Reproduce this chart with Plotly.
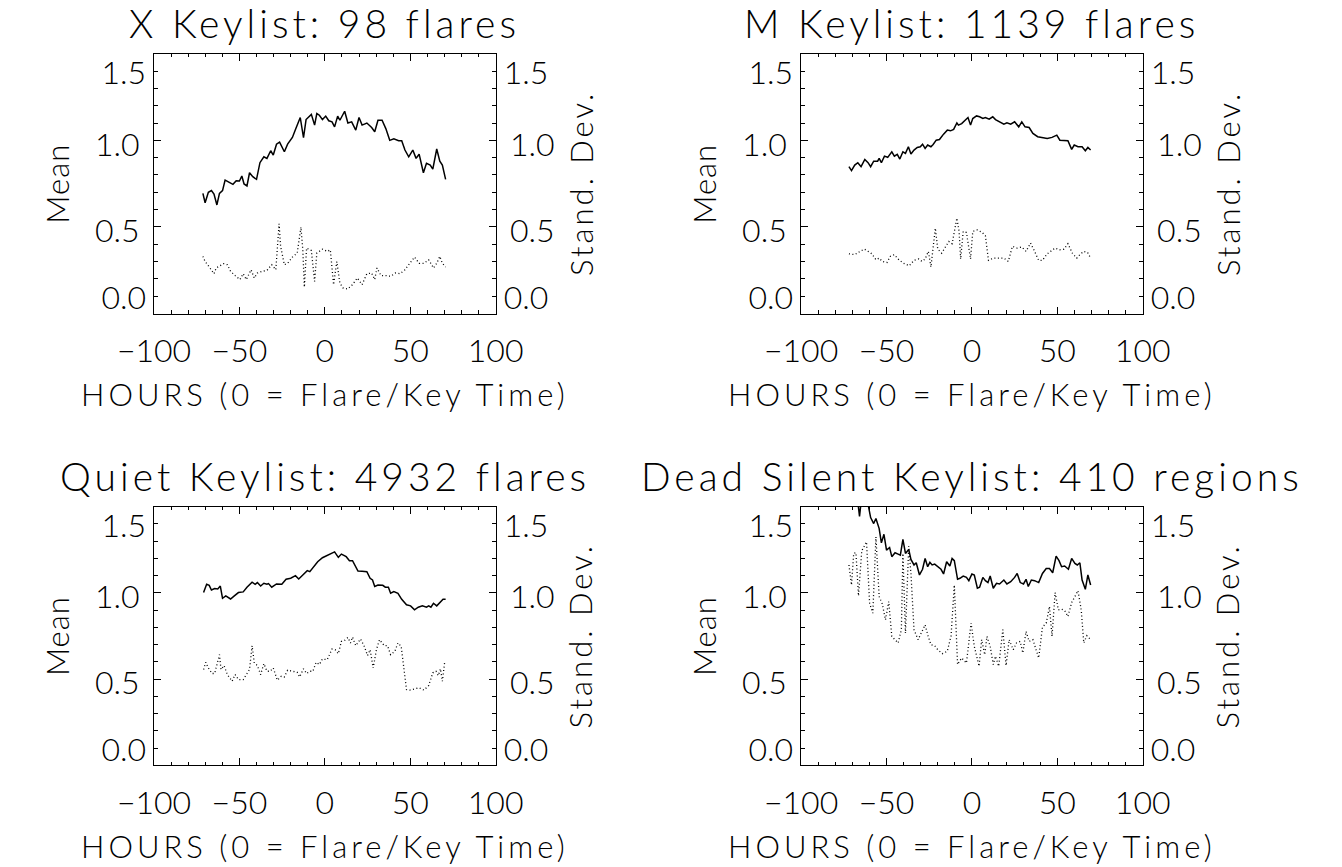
import plotly.graph_objects as go

# ---------------- data ----------------
TITLES = ["X Keylist: 98 flares", "M Keylist: 1139 flares",
          "Quiet Keylist: 4932 flares", "Dead Silent Keylist: 410 regions"]
X_TICKS = [-100, -50, 0, 50, 100]
Y_TICKS = [0.0, 0.5, 1.0, 1.5]
X_LABEL = "HOURS (0 = Flare/Key Time)"
Y_LABEL_LEFT = "Mean"
Y_LABEL_RIGHT = "Stand. Dev."

# X keylist
X_MEAN_HOURS = [-71.4, -70.1, -68.2, -66.4, -64.9, -63.2, -61.7, -59.9, -58.4, -56.2,
                -53.8, -51.9, -50.0, -48.6, -47.3, -45.6, -44.1, -42.2, -40.0, -38.0,
                -35.7, -33.9, -31.7, -30.2, -28.3, -26.5, -23.7, -21.8, -19.0, -17.2,
                -14.4, -12.5, -11.0, -7.9, -6.0, -4.7, -3.2, -1.4, 0.5, 2.3,
                4.2, 5.7, 7.5, 8.8, 11.6, 13.5, 15.7, 18.1, 20.0, 21.8,
                24.6, 27.4, 29.2, 31.1, 33.5, 35.7, 38.0, 40.4, 43.2, 45.0,
                46.9, 49.1, 51.5, 53.4, 55.2, 57.7, 59.5, 61.7, 63.2, 65.5,
                67.3, 68.8, 70.7]
X_MEAN = [0.694, 0.64, 0.70, 0.71, 0.69, 0.627, 0.694, 0.71, 0.77, 0.76,
          0.746, 0.767, 0.765, 0.794, 0.748, 0.737, 0.813, 0.79, 0.775, 0.871,
          0.905, 0.896, 0.94, 0.915, 0.978, 0.99, 0.934, 0.978, 1.017, 1.063,
          1.132, 1.015, 1.12, 1.15, 1.088, 1.155, 1.145, 1.12, 1.14, 1.113,
          1.107, 1.078, 1.14, 1.116, 1.168, 1.10, 1.107, 1.059, 1.132, 1.088,
          1.10, 1.074, 1.05, 1.116, 1.116, 1.068, 1.0, 1.009, 0.998, 0.998,
          0.944, 0.905, 0.944, 0.896, 0.92, 0.813, 0.867, 0.857, 0.834, 0.95,
          0.88, 0.857, 0.775]
X_STD_HOURS = [-71.4, -70.1, -68.2, -64.9, -63.6, -61.7, -59.3, -57.1, -55.2, -52.5,
               -49.7, -47.8, -46.0, -43.2, -41.3, -39.5, -36.7, -33.9, -31.1, -28.7,
               -26.8, -25.9, -23.7, -21.8, -19.0, -16.2, -14.0, -12.9, -12.0, -10.7,
               -7.9, -6.0, -4.7, -1.4, 1.4, 3.2, 5.1, 7.0, 8.8, 10.6,
               13.4, 16.2, 19.0, 21.8, 24.6, 27.4, 29.2, 30.5, 32.9, 35.7,
               38.5, 41.3, 44.1, 46.9, 49.7, 52.5, 55.2, 58.0, 60.8, 63.6,
               65.5, 67.3, 68.8, 70.7]
X_STD = [0.33, 0.30, 0.276, 0.23, 0.263, 0.272, 0.288, 0.282, 0.244, 0.219,
         0.196, 0.23, 0.196, 0.253, 0.205, 0.234, 0.244, 0.249, 0.282, 0.253,
         0.518, 0.388, 0.282, 0.29, 0.326, 0.349, 0.499, 0.368, 0.153, 0.378,
         0.364, 0.186, 0.349, 0.372, 0.359, 0.368, 0.167, 0.30, 0.176, 0.148,
         0.142, 0.167, 0.205, 0.167, 0.23, 0.234, 0.196, 0.263, 0.219, 0.219,
         0.215, 0.234, 0.23, 0.253, 0.29, 0.326, 0.29, 0.29, 0.31, 0.263,
         0.29, 0.33, 0.29, 0.269]

# M keylist
M_MEAN_HOURS = [-72.0, -70.5, -68.6, -66.8, -64.9, -62.7, -60.8, -59.3, -57.5, -55.2,
                -54.3, -53.0, -51.2, -49.3, -46.9, -45.4, -43.7, -42.2, -40.4, -38.9,
                -37.2, -35.7, -33.9, -32.0, -30.2, -28.9, -27.4, -25.9, -24.0, -22.7,
                -20.9, -19.0, -16.6, -14.4, -12.5, -10.7, -8.8, -7.9, -6.0, -4.2,
                -2.3, -0.8, 0.5, 2.7, 4.5, 6.4, 7.9, 10.1, 12.2, 13.8,
                16.2, 18.7, 20.5, 22.7, 25.0, 27.4, 29.2, 31.1, 33.5, 35.7,
                38.5, 41.3, 44.1, 46.9, 49.7, 51.5, 53.9, 56.2, 58.4, 59.9,
                62.1, 64.5, 66.4, 67.9, 69.5]
M_MEAN = [0.848, 0.825, 0.857, 0.871, 0.848, 0.89, 0.871, 0.848, 0.88, 0.88,
          0.896, 0.871, 0.909, 0.902, 0.934, 0.909, 0.919, 0.892, 0.934, 0.925,
          0.963, 0.921, 0.944, 0.959, 0.963, 0.978, 0.953, 0.973, 0.963, 0.976,
          1.001, 1.005, 1.036, 1.059, 1.055, 1.063, 1.101, 1.088, 1.097, 1.113,
          1.132, 1.088, 1.126, 1.141, 1.136, 1.126, 1.132, 1.122, 1.136, 1.12,
          1.107, 1.093, 1.101, 1.093, 1.107, 1.078, 1.107, 1.078, 1.074, 1.04,
          1.021, 1.017, 1.011, 1.017, 1.03, 1.001, 1.001, 0.998, 0.948, 0.973,
          0.963, 0.963, 0.94, 0.959, 0.944]
M_STD_HOURS = [-72.0, -68.6, -65.5, -63.0, -60.8, -58.6, -56.2, -54.3, -52.5, -49.7,
               -47.8, -45.4, -43.2, -40.4, -36.7, -33.9, -31.1, -29.2, -27.4, -25.5,
               -24.0, -21.4, -20.0, -17.7, -15.3, -13.5, -11.6, -8.8, -7.5, -6.6,
               -5.1, -3.2, -0.8, 0.5, 3.2, 6.0, 7.9, 9.7, 12.5, 15.3,
               18.7, 21.3, 23.7, 26.5, 29.2, 31.7, 34.3, 36.7, 39.1, 41.3,
               44.1, 48.7, 51.5, 53.9, 56.2, 59.0, 61.4, 63.2, 65.5, 67.7,
               69.5]
M_STD = [0.345, 0.34, 0.359, 0.372, 0.359, 0.345, 0.311, 0.32, 0.301, 0.295,
         0.33, 0.34, 0.315, 0.292, 0.276, 0.307, 0.315, 0.301, 0.315, 0.359,
         0.269, 0.493, 0.372, 0.349, 0.388, 0.416, 0.403, 0.551, 0.474, 0.315,
         0.474, 0.468, 0.315, 0.474, 0.483, 0.468, 0.449, 0.307, 0.32, 0.32,
         0.32, 0.301, 0.388, 0.378, 0.384, 0.359, 0.407, 0.359, 0.307, 0.307,
         0.345, 0.378, 0.368, 0.372, 0.403, 0.345, 0.32, 0.34, 0.359, 0.353,
         0.32]

# Quiet keylist
Q_MEAN_HOURS = [-71.0, -69.2, -67.7, -66.4, -64.5, -62.7, -61.2, -59.9, -58.0, -55.2,
                -53.0, -50.6, -47.8, -45.6, -42.6, -40.8, -39.5, -37.6, -35.7, -33.9,
                -33.0, -31.1, -28.3, -25.2, -22.7, -20.0, -17.2, -15.3, -12.9, -10.3,
                -8.8, -6.6, -4.2, -1.4, 1.4, 4.2, 5.7, 7.9, 9.7, 12.5,
                14.4, 16.2, 19.4, 21.8, 24.6, 26.5, 27.9, 29.2, 31.1, 33.9,
                35.4, 37.2, 38.5, 40.4, 42.8, 45.0, 47.8, 50.2, 52.5, 54.7,
                57.1, 59.5, 60.8, 62.1, 63.6, 65.5, 67.3, 69.2, 70.7]
Q_MEAN = [1.002, 1.05, 1.044, 1.017, 1.025, 1.023, 1.04, 0.969, 0.983, 0.965,
          0.983, 1.002, 1.006, 1.033, 1.062, 1.05, 1.06, 1.04, 1.056, 1.05,
          1.054, 1.033, 1.052, 1.05, 1.079, 1.085, 1.10, 1.081, 1.104, 1.129,
          1.123, 1.152, 1.181, 1.204, 1.219, 1.233, 1.238, 1.206, 1.225, 1.21,
          1.187, 1.187, 1.127, 1.125, 1.123, 1.085, 1.075, 1.037, 1.046, 1.044,
          1.033, 1.033, 0.998, 1.008, 0.998, 0.963, 0.931, 0.925, 0.902, 0.917,
          0.925, 0.917, 0.925, 0.917, 0.94, 0.925, 0.944, 0.963, 0.963]
Q_STD_HOURS = [-71.0, -69.7, -68.2, -66.0, -64.5, -62.7, -61.7, -60.8, -59.0, -57.1,
               -54.3, -52.5, -50.6, -47.8, -46.0, -44.1, -42.6, -41.3, -39.5, -37.6,
               -35.7, -33.9, -32.0, -30.2, -27.8, -25.5, -23.7, -21.8, -19.0, -16.2,
               -14.8, -12.5, -10.7, -8.8, -7.0, -5.1, -3.2, -1.4, 1.4, 4.2,
               6.0, 7.9, 9.7, 11.6, 13.5, 15.0, 16.2, 18.1, 20.9, 23.1,
               25.0, 26.5, 28.3, 30.2, 32.0, 34.8, 36.7, 38.5, 41.0, 42.8,
               44.7, 46.5, 47.8, 49.7, 52.5, 55.2, 58.0, 60.8, 63.2, 65.1,
               66.4, 67.7, 68.8, 70.1]
Q_STD = [0.556, 0.598, 0.565, 0.533, 0.533, 0.598, 0.642, 0.556, 0.579, 0.527,
         0.488, 0.527, 0.498, 0.498, 0.527, 0.556, 0.694, 0.594, 0.579, 0.527,
         0.59, 0.546, 0.546, 0.565, 0.494, 0.517, 0.513, 0.552, 0.546, 0.54,
         0.513, 0.56, 0.533, 0.546, 0.546, 0.598, 0.585, 0.617, 0.613, 0.675,
         0.671, 0.648, 0.719, 0.725, 0.742, 0.71, 0.744, 0.694, 0.733, 0.69,
         0.637, 0.671, 0.565, 0.671, 0.729, 0.694, 0.694, 0.642, 0.662, 0.71,
         0.69, 0.537, 0.44, 0.437, 0.444, 0.45, 0.437, 0.463, 0.537, 0.546,
         0.521, 0.56, 0.488, 0.594]

# Dead Silent keylist
D_MEAN_HOURS = [-72.0, -69.7, -67.9, -65.8, -64.5, -61.7, -59.3, -57.5, -56.2, -54.3,
                -53.0, -51.5, -50.0, -48.2, -46.9, -45.0, -43.2, -41.9, -40.4, -38.9,
                -37.0, -35.7, -33.9, -32.6, -30.7, -28.9, -27.4, -25.9, -24.6, -23.3,
                -21.8, -20.0, -18.1, -16.6, -14.8, -12.9, -11.6, -10.3, -8.4, -7.0,
                -5.1, -3.2, -1.8, 0.0, 1.4, 3.2, 4.5, 6.4, 7.9, 9.4,
                10.7, 12.5, 14.4, 16.2, 18.7, 20.5, 22.7, 25.0, 26.5, 28.3,
                30.2, 31.7, 33.0, 34.8, 36.7, 39.1, 41.3, 43.5, 45.4, 47.3,
                49.3, 51.0, 52.5, 54.3, 56.5, 58.4, 60.3, 61.7, 63.2, 64.5,
                66.4, 67.9, 69.5]
D_MEAN = [1.75, 1.7, 1.62, 1.444, 1.56, 1.56, 1.437, 1.402, 1.431, 1.373,
          1.29, 1.34, 1.248, 1.263, 1.21, 1.233, 1.225, 1.219, 1.31, 1.229,
          1.252, 1.194, 1.162, 1.175, 1.104, 1.137, 1.2, 1.152, 1.177, 1.162,
          1.167, 1.152, 1.137, 1.11, 1.181, 1.156, 1.2, 1.187, 1.079, 1.085,
          1.098, 1.09, 1.071, 1.11, 1.104, 1.027, 1.033, 1.09, 1.071, 1.06,
          1.098, 1.027, 1.056, 1.052, 1.075, 1.052, 1.065, 1.09, 1.113, 1.06,
          1.052, 1.079, 1.037, 1.075, 1.071, 1.06, 1.113, 1.142, 1.142, 1.117,
          1.213, 1.187, 1.152, 1.156, 1.137, 1.2, 1.171, 1.162, 1.175, 1.075,
          1.021, 1.104, 1.046]
D_STD_HOURS = [-72.0, -70.5, -69.2, -67.9, -66.4, -64.5, -61.7, -59.9, -58.0, -56.2,
               -54.3, -52.5, -50.6, -48.7, -46.9, -45.0, -43.2, -41.3, -40.4, -38.9,
               -37.0, -35.7, -33.9, -31.5, -29.6, -27.4, -25.9, -24.0, -21.8, -20.0,
               -17.2, -14.4, -12.2, -10.3, -8.4, -6.0, -3.2, -0.5, 1.4, 4.2,
               5.7, 7.5, 8.8, 10.7, 12.5, 13.8, 15.7, 18.1, 20.0, 21.8,
               24.2, 26.1, 28.3, 29.8, 31.7, 33.5, 35.7, 37.2, 39.1, 41.3,
               43.5, 45.4, 46.9, 48.7, 50.6, 52.5, 54.3, 56.2, 58.4, 60.3,
               62.1, 64.0, 65.5, 67.3, 69.5]
D_STD = [1.162, 1.046, 1.229, 1.233, 0.983, 1.244, 1.296, 0.94, 0.883, 1.325,
         0.979, 0.937, 0.844, 0.95, 0.748, 0.725, 0.71, 0.787, 1.229, 0.767,
         1.271, 1.113, 0.787, 0.729, 0.771, 0.815, 0.758, 0.7, 0.694, 0.671,
         0.648, 0.662, 0.752, 1.046, 0.585, 0.623, 0.594, 0.825, 0.69, 0.575,
         0.729, 0.642, 0.748, 0.69, 0.585, 0.633, 0.575, 0.787, 0.579, 0.729,
         0.671, 0.71, 0.719, 0.652, 0.777, 0.719, 0.729, 0.675, 0.623, 0.802,
         0.825, 0.921, 0.748, 1.002, 0.902, 0.906, 0.898, 0.863, 0.944, 0.979,
         1.013, 0.902, 0.71, 0.752, 0.729]

PANELS = [
    (X_MEAN_HOURS, X_MEAN, X_STD_HOURS, X_STD),
    (M_MEAN_HOURS, M_MEAN, M_STD_HOURS, M_STD),
    (Q_MEAN_HOURS, Q_MEAN, Q_STD_HOURS, Q_STD),
    (D_MEAN_HOURS, D_MEAN, D_STD_HOURS, D_STD),
]

# ---------------- layout geometry ----------------
W, H = 1342, 867
# plot frames in pixels: (left, right, top, bottom)
FRAMES = [(123, 482, 53, 314), (803, 1162, 53, 314),
          (123, 482, 508, 768), (803, 1162, 508, 768)]

FONT = "Lato"
TICK_SIZE = 32
TITLE_SIZE = 39
LABEL_SIZE = 31
INK = "black"
Y_RANGE = [min(Y_TICKS), max(Y_TICKS)]
Y_INNER = [v for v in Y_TICKS if Y_RANGE[0] < v < Y_RANGE[1]]


def px(x):
    return x / W


def py(y):
    return 1 - y / H


def spaced(text, sp):
    return f'<span style="letter-spacing:{sp}px">{text}</span>'


fig = go.Figure()
layout = dict(
    width=W, height=H, autosize=False,
    margin=dict(l=0, r=0, t=0, b=0),
    paper_bgcolor="white", plot_bgcolor="white",
    showlegend=False,
    font=dict(family=FONT, size=TICK_SIZE, color=INK, weight=300),
    annotations=[],
)

tickfont = dict(family=FONT, size=TICK_SIZE, color=INK, weight=300)
minor_y = dict(dtick=0.1, tick0=0, ticks="inside", ticklen=3.5, tickcolor=INK, tickwidth=1)
minor_x = dict(dtick=10, tick0=0, ticks="inside", ticklen=3.5, tickcolor=INK, tickwidth=1)

yn = 0
for k, ((mh, mv, sh, sv), (l, r, t, b), title) in enumerate(zip(PANELS, FRAMES, TITLES)):
    xa = "x" if k == 0 else f"x{k+1}"
    xkey = "xaxis" if k == 0 else f"xaxis{k+1}"

    # six y axes per panel: main / top-end label / bottom-end label, on each side
    ids = list(range(yn + 1, yn + 7))
    yn += 6
    names = ["y" if i == 1 else f"y{i}" for i in ids]
    keys = ["yaxis" if i == 1 else f"yaxis{i}" for i in ids]
    yl, yr = names[0], names[3]

    fig.add_trace(go.Scatter(x=mh, y=mv, mode="lines", xaxis=xa, yaxis=yl,
                             line=dict(color=INK, width=1.5), hoverinfo="skip"))
    fig.add_trace(go.Scatter(x=sh, y=sv, mode="lines", xaxis=xa, yaxis=yr,
                             line=dict(color=INK, width=1.3, dash="1px,2.5px"),
                             hoverinfo="skip"))
    # empty traces so that the label-only axes are laid out (they draw nothing)
    for nm in (names[1], names[2], names[4], names[5]):
        fig.add_trace(go.Scatter(x=[], y=[], mode="lines", xaxis=xa, yaxis=nm,
                                 hoverinfo="skip", showlegend=False))

    common = dict(showgrid=False, zeroline=False, tickwidth=1, tickcolor=INK,
                  tickfont=tickfont, range=Y_RANGE, tickformat=".1f",
                  tickmode="array", anchor=xa)
    layout[xkey] = dict(domain=[px(l), px(r)], anchor=yl, range=[-100, 100],
                        tickmode="array", tickvals=X_TICKS, mirror="ticks",
                        showline=True, linecolor=INK, linewidth=1,
                        showgrid=False, zeroline=False,
                        ticks="inside", ticklen=7, tickwidth=1, tickcolor=INK,
                        tickfont=tickfont, minor=minor_x, ticklabelstandoff=9)
    for side, off in (("left", 0), ("right", 3)):
        main = dict(side=side, showline=True, linecolor=INK, linewidth=1,
                    ticks="inside", ticklen=7, tickvals=Y_INNER, minor=minor_y,
                    ticklabelshift=4, ticklabelstandoff=7, **common)
        if off == 0:
            main["domain"] = [py(b), py(t)]
        else:
            main["overlaying"] = yl
        layout[keys[off]] = main
        # end labels are kept inside the frame, as in the reference
        layout[keys[off + 1]] = dict(side=side, overlaying=yl, showline=False,
                                     ticks="", tickvals=[Y_RANGE[1]],
                                     ticklabelposition="outside bottom",
                                     ticklabelshift=-3,
                                     ticklabelstandoff=7, **common)
        layout[keys[off + 2]] = dict(side=side, overlaying=yl, showline=False,
                                     ticks="", tickvals=[Y_RANGE[0]],
                                     ticklabelposition="outside top",
                                     ticklabelshift=7,
                                     ticklabelstandoff=7, **common)

    cx = (l + r) / 2
    cy = (t + b) / 2
    ann = layout["annotations"]
    ann.append(dict(text=spaced(title, 4), x=px(cx), y=py(t - 30.5), xref="paper",
                    yref="paper", xanchor="center", yanchor="middle", showarrow=False,
                    font=dict(family=FONT, size=TITLE_SIZE, color=INK, weight=300)))
    ann.append(dict(text=spaced(X_LABEL, 4), x=px(cx), y=py(b + 81), xref="paper",
                    yref="paper", xanchor="center", yanchor="middle", showarrow=False,
                    font=dict(family=FONT, size=LABEL_SIZE, color=INK, weight=300)))
    ann.append(dict(text=spaced(Y_LABEL_LEFT, 1), x=px(l - 102), y=py(cy), xref="paper",
                    yref="paper", xanchor="center", yanchor="middle", textangle=-90,
                    showarrow=False,
                    font=dict(family=FONT, size=LABEL_SIZE, color=INK, weight=300)))
    ann.append(dict(text=spaced(Y_LABEL_RIGHT, 3), x=px(r + 89), y=py(cy), xref="paper",
                    yref="paper", xanchor="center", yanchor="middle", textangle=-90,
                    showarrow=False,
                    font=dict(family=FONT, size=LABEL_SIZE, color=INK, weight=300)))

fig.update_layout(**layout)
fig.write_html("out.html")
